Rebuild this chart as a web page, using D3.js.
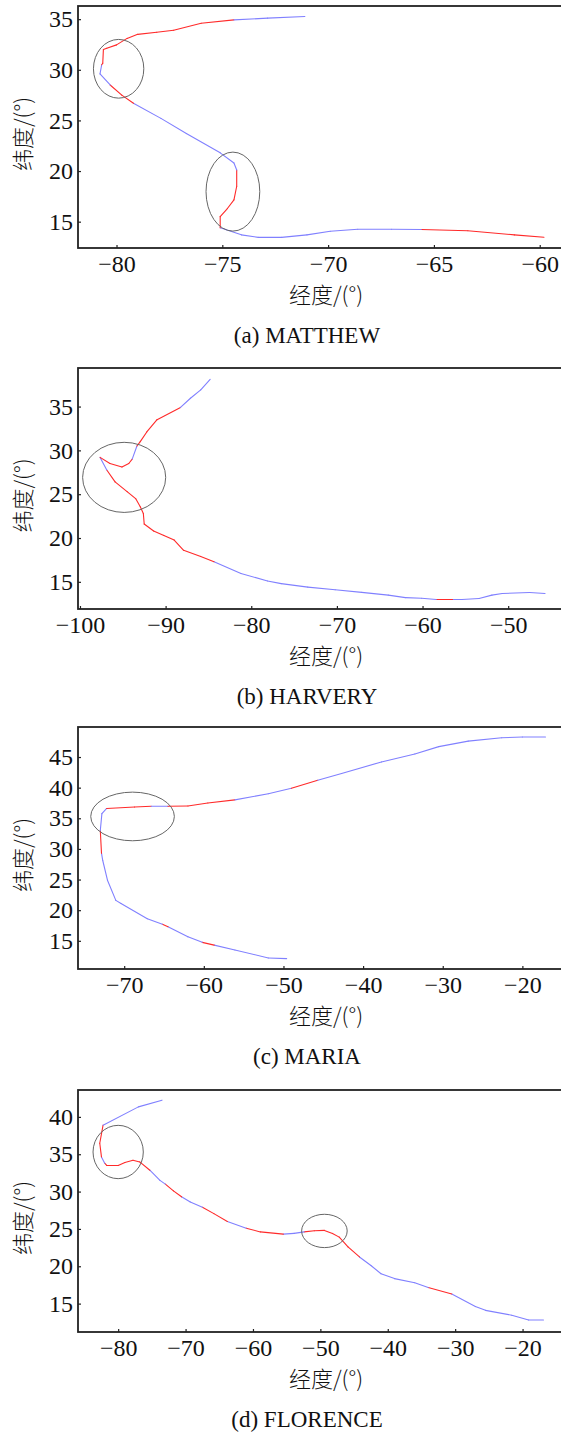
<!DOCTYPE html>
<html>
<head>
<meta charset="utf-8">
<script src="https://cdn.jsdelivr.net/npm/d3@7"></script>
<style>
body { margin: 0; background: #fff; }
svg text { font-family: "Liberation Serif", "Times New Roman", serif; fill: #111; }
.cjk { font-family: "Noto Sans CJK SC", "Liberation Serif", serif; font-weight: 300; }
</style>
</head>
<body>
<div id="chart"></div>
<script>
// segment flag: 1 = red, 0 = blue (colour of the piece from this point to the next)
var matthewLon = [-59.8,-61.2,-63.4,-65.6,-67.0,-68.6,-69.9,-71.0,-72.2,-73.3,-74.1,-75.1,-75.1,-74.76,-74.45,-74.32,-74.32,-74.45,-75.1,-76.7,-77.9,-79.2,-79.75,-80.3,-80.78,-80.7,-80.65,-80.62,-80.46,-80.0,-79.5,-79.0,-78.1,-77.3,-76.0,-74.45,-72.86,-71.1];
var matthewLat = [13.46,13.7,14.1,14.22,14.25,14.25,14.05,13.7,13.45,13.45,13.7,14.4,15.5,16.3,17.15,18.5,20.1,20.8,21.8,23.7,25.2,26.7,27.5,28.5,29.6,30.5,30.65,32.0,32.13,32.46,33.1,33.5,33.7,33.9,34.6,34.93,35.1,35.26];
var matthewSeg = [1,1,1,0,0,0,0,0,0,0,0,1,1,1,1,1,0,0,0,0,0,1,1,0,0,1,1,1,1,1,1,1,1,1,1,0,0];

var harveyLon = [-45.7,-47.5,-50.7,-51.9,-53.4,-55.4,-56.5,-58.4,-60.1,-62.0,-64.0,-67.1,-70.2,-73.4,-76.5,-78.1,-81.2,-84.35,-85.9,-87.9,-89.0,-90.2,-91.4,-92.5,-92.6,-92.96,-93.5,-94.5,-95.9,-96.87,-97.65,-96.5,-95.1,-94.3,-93.9,-93.35,-92.96,-92.2,-91.0,-88.26,-87.1,-85.9,-84.8];
var harveyLat = [13.67,13.78,13.67,13.48,13.1,12.98,12.98,12.98,13.13,13.2,13.48,13.8,14.1,14.4,14.8,15.1,15.95,17.3,17.9,18.6,19.76,20.3,20.8,21.6,22.8,23.57,24.5,25.3,26.4,27.76,29.2,28.5,28.1,28.5,29.0,30.5,31.0,32.1,33.5,34.9,35.95,36.9,38.1];
var harveySeg = [0,0,0,0,0,0,1,0,0,0,0,0,0,0,0,0,0,1,1,1,1,1,1,1,1,1,1,1,1,0,1,1,1,1,0,1,1,1,1,0,0,0];

var mariaLon = [-49.6,-51.9,-56.1,-58.7,-60.2,-62.0,-64.5,-65.2,-67.1,-70.4,-71.05,-72.1,-72.7,-72.85,-73.0,-72.8,-72.2,-68.7,-66.6,-64.5,-62.0,-59.5,-56.1,-51.9,-49.0,-45.7,-42.7,-37.7,-33.5,-30.5,-26.8,-22.6,-20.0,-17.1];
var mariaLat = [12.1,12.2,13.5,14.3,14.75,15.65,17.3,17.7,18.6,21.1,21.6,24.9,28.15,29.3,33.0,35.76,36.6,36.85,36.96,36.96,37.0,37.5,38.0,39.0,39.9,41.2,42.3,44.2,45.5,46.7,47.6,48.15,48.26,48.26];
var mariaSeg = [0,0,0,1,0,0,1,0,0,0,0,0,0,1,0,0,1,1,0,1,1,1,0,0,1,0,0,0,0,0,0,0,0];

var florenceLon = [-16.9,-19.1,-21.6,-25.5,-27.0,-30.5,-34.0,-36.0,-39.0,-41.0,-42.5,-44.2,-45.9,-47.2,-48.2,-49.4,-50.9,-52.4,-53.9,-55.5,-58.9,-61.0,-63.8,-65.8,-67.5,-69.3,-70.6,-71.8,-73.0,-73.8,-75.3,-76.8,-77.8,-79.0,-80.0,-81.7,-82.0,-82.48,-82.73,-82.24,-77.0,-73.5];
var florenceLat = [12.8,12.8,13.45,14.1,14.6,16.3,17.15,17.8,18.35,19.0,20.1,21.25,22.6,23.9,24.4,24.8,24.75,24.6,24.4,24.3,24.6,25.1,26.0,27.05,27.9,28.6,29.3,30.1,31.0,31.5,32.86,33.97,34.2,33.9,33.5,33.5,33.8,34.64,36.47,38.89,41.34,42.24];
var florenceSeg = [0,0,0,0,0,1,0,0,0,0,0,1,1,1,1,1,1,0,0,1,1,0,1,1,0,0,1,1,0,0,1,1,1,1,1,1,0,1,1,0,0];

// circled regions: [lon, lat, radius lon, radius lat]
var matthewRings = [[-79.9, 30.1, 1.19, 2.9], [-74.5, 17.97, 1.27, 3.9]];
var harveyRings = [[-94.84, 26.92, 4.85, 4.0]];
var mariaRings = [[-68.95, 35.3, 5.25, 3.97]];
var florenceRings = [[-80.0, 35.3, 3.73, 3.57], [-49.4, 24.73, 3.38, 2.23]];

var matthewXTicks = [-80, -75, -70, -65, -60];
var harveyXTicks = [-100, -90, -80, -70, -60, -50];
var mariaXTicks = [-70, -60, -50, -40, -30, -20];
var florenceXTicks = [-80, -70, -60, -50, -40, -30, -20];
var matthewYTicks = [15, 20, 25, 30, 35];
var harveyYTicks = [15, 20, 25, 30, 35];
var mariaYTicks = [15, 20, 25, 30, 35, 40, 45];
var florenceYTicks = [15, 20, 25, 30, 35, 40];

var captions = ["(a) MATTHEW", "(b) HARVERY", "(c) MARIA", "(d) FLORENCE"];

width = 561;
height = 1437;
var left = 78, right = 563;

var panels = [
    {lon: matthewLon, lat: matthewLat, seg: matthewSeg, rings: matthewRings, xt: matthewXTicks, yt: matthewYTicks,
     xdom: [-81.82, -58.9], ydom: [12.4, 36.3], top: 6, bottom: 248},
    {lon: harveyLon, lat: harveyLat, seg: harveySeg, rings: harveyRings, xt: harveyXTicks, yt: harveyYTicks,
     xdom: [-100.23, -43.6], ydom: [11.9, 39.4], top: 368, bottom: 609},
    {lon: mariaLon, lat: mariaLat, seg: mariaSeg, rings: mariaRings, xt: mariaXTicks, yt: mariaYTicks,
     xdom: [-75.8, -14.9], ydom: [10.4, 49.9], top: 727, bottom: 969},
    {lon: florenceLon, lat: florenceLat, seg: florenceSeg, rings: florenceRings, xt: florenceXTicks, yt: florenceYTicks,
     xdom: [-85.96, -14.0], ydom: [11.2, 43.6], top: 1090, bottom: 1332}
];

var svg = d3.select("#chart").append("svg")
    .attr("width", width)
    .attr("height", height);

panels.forEach(function(p, k) {
    var x = d3.scaleLinear().domain(p.xdom).range([left, right]);
    var y = d3.scaleLinear().domain(p.ydom).range([p.bottom, p.top]);
    var g = svg.append("g");

    // track pieces
    var pts = p.lon.map(function(v, i) { return [v, p.lat[i]]; });
    var line = d3.line().x(function(d) { return x(d[0]); }).y(function(d) { return y(d[1]); });
    for (var i = 0; i < pts.length - 1; i++) {
        g.append("path")
            .attr("d", line([pts[i], pts[i + 1]]))
            .attr("fill", "none")
            .attr("stroke", p.seg[i] ? "#ff2a2a" : "#8080ff")
            .attr("stroke-width", 1.1)
            .attr("stroke-linecap", "round");
    }

    // rings
    g.selectAll("ellipse")
        .data(p.rings)
        .enter()
        .append("ellipse")
        .attr("cx", function(d) { return x(d[0]); })
        .attr("cy", function(d) { return y(d[1]); })
        .attr("rx", function(d) { return x(d[0] + d[2]) - x(d[0]); })
        .attr("ry", function(d) { return y(d[1] - d[3]) - y(d[1]); })
        .attr("fill", "none")
        .attr("stroke", "#666")
        .attr("stroke-width", 1);

    // frame
    g.append("rect")
        .attr("x", left).attr("y", p.top)
        .attr("width", right - left + 5).attr("height", p.bottom - p.top)
        .attr("fill", "none").attr("stroke", "#222").attr("stroke-width", 1.8);

    var xAxis = d3.axisBottom(x).tickValues(p.xt).tickSizeInner(-3).tickSizeOuter(0)
        .tickPadding(7).tickFormat(function(d) { return "\u2212" + Math.abs(d); });
    var yAxis = d3.axisLeft(y).tickValues(p.yt).tickSizeInner(-3).tickSizeOuter(0).tickPadding(5);

    var gx = g.append("g").attr("transform", "translate(0," + p.bottom + ")").call(xAxis);
    var gy = g.append("g").attr("transform", "translate(" + left + ",0)").call(yAxis);
    [gx, gy].forEach(function(a) {
        a.attr("font-size", null).attr("font-family", null);
        a.select(".domain").remove();
        a.selectAll(".tick line").attr("stroke", "#222").attr("stroke-width", 1.2);
        a.selectAll("text").style("font-size", "24px").style("font-family", "'Liberation Serif', serif").attr("fill", "#111");
    });

    g.append("text")
        .attr("class", "cjk")
        .attr("x", 326).attr("y", p.bottom + 55)
        .attr("text-anchor", "middle")
        .style("font-size", "22px")
        .text("经度/(°)");

    var yc = (p.top + p.bottom) / 2 + 7;
    g.append("text")
        .attr("class", "cjk")
        .attr("transform", "translate(31," + yc + ") rotate(-90)")
        .attr("text-anchor", "middle")
        .style("font-size", "22px")
        .text("纬度/(°)");

    g.append("text")
        .attr("x", 307).attr("y", p.bottom + 95)
        .attr("text-anchor", "middle")
        .style("font-size", "23px")
        .text(captions[k]);
});
</script>
</body>
</html>
